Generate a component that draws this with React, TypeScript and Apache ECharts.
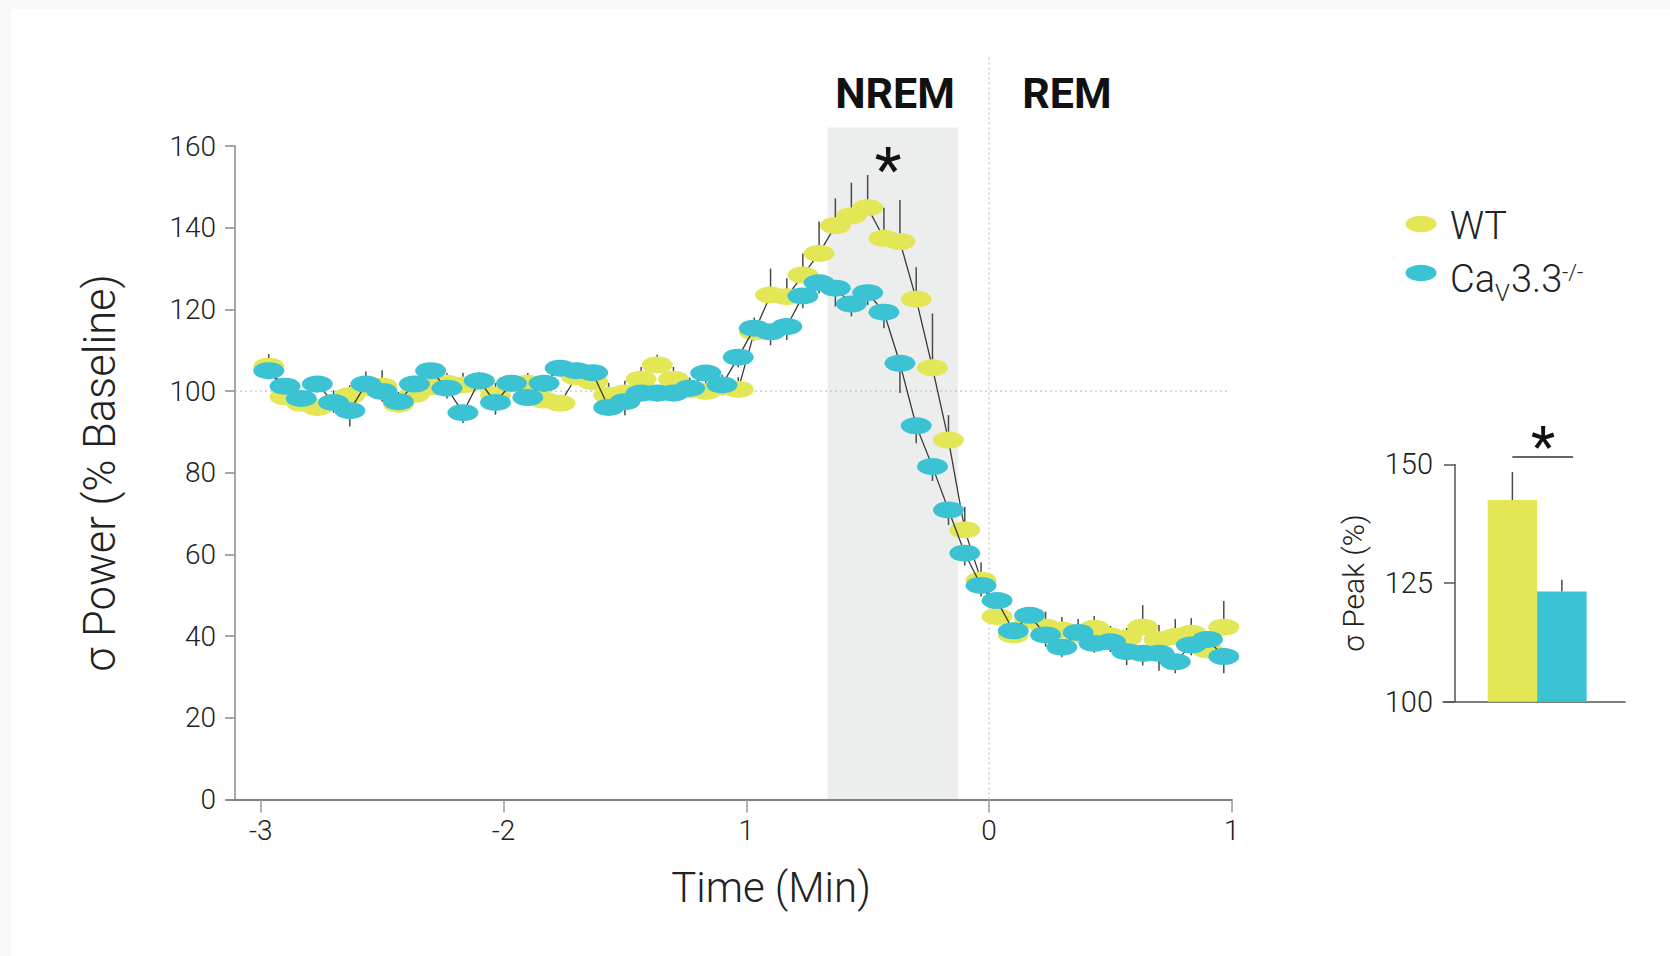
import React, { useEffect, useRef } from "react";
import * as echarts from "echarts";

// ---- data -------------------------------------------------------------
const TIME_MIN = [
  -2.967, -2.9, -2.833, -2.767, -2.7, -2.633, -2.567, -2.5, -2.433, -2.367,
  -2.3, -2.233, -2.167, -2.1, -2.033, -1.967, -1.9, -1.833, -1.767, -1.7,
  -1.633, -1.567, -1.5, -1.433, -1.367, -1.3, -1.233, -1.167, -1.1, -1.033,
  -0.967, -0.9, -0.833, -0.767, -0.7, -0.633, -0.567, -0.5, -0.433, -0.367,
  -0.3, -0.233, -0.167, -0.1, -0.033, 0.033, 0.1, 0.167, 0.233, 0.3,
  0.367, 0.433, 0.5, 0.567, 0.633, 0.7, 0.767, 0.833, 0.9, 0.967,
];
const WT_POWER = [
  106.1, 98.6, 97.0, 96.0, 97.2, 98.9, 100.8, 101.2, 96.8, 99.2,
  101.0, 101.9, 101.5, 102.2, 99.0, 101.9, 101.9, 97.8, 97.0, 103.5,
  102.3, 99.0, 99.5, 102.9, 106.4, 102.9, 100.3, 99.9, 101.0, 100.4,
  114.5, 123.5, 123.1, 128.4, 133.7, 140.5, 142.9, 144.9, 137.4, 136.6,
  122.5, 105.7, 88.0, 66.0, 53.7, 44.8, 40.3, 44.0, 42.2, 41.5,
  40.5, 41.9, 40.0, 39.5, 42.2, 39.1, 39.9, 40.7, 36.6, 42.2,
];
const WT_SEM = [
  3, 2.5, 2, 2, 3, 2.5, 4, 3.9, 3, 2.5,
  3, 2.5, 3, 2.4, 3, 2, 2.5, 3, 2, 2.5,
  2.5, 3, 3, 3, 2.5, 3, 3, 2.5, 3, 3,
  3.5, 6.5, 4.5, 5.3, 7.8, 6.7, 8.1, 8.0, 7.5, 10.2,
  7.8, 13.3, 6.1, 5.7, 4.3, 2.5, 2.5, 2.5, 3.8, 3.2,
  3.7, 3.0, 2.5, 2.5, 5.4, 3.6, 4.3, 3.7, 2.0, 6.4,
];
const CAV_POWER = [
  105.0, 101.2, 98.2, 101.7, 97.2, 95.2, 101.7, 99.9, 97.4, 101.7,
  105.0, 100.7, 94.7, 102.5, 97.2, 101.9, 98.4, 101.9, 105.6, 105.0,
  104.5, 96.0, 97.4, 99.5, 99.5, 99.5, 100.7, 104.4, 101.5, 108.3,
  115.4, 114.5, 115.8, 123.3, 126.5, 125.2, 121.3, 124.1, 119.3, 106.8,
  91.5, 81.5, 70.9, 60.3, 52.4, 48.7, 41.3, 45.1, 40.3, 37.3,
  40.9, 38.2, 38.6, 36.2, 35.8, 35.8, 33.7, 37.8, 39.2, 35.0,
];
const CAV_SEM = [
  2, 2.5, 2, 2, 2.5, 3.9, 2, 2.5, 2, 2,
  2, 2.5, 2.5, 2, 3, 2, 2, 2, 2, 2,
  2, 2.1, 3.3, 2, 2, 2, 2, 2, 2.5, 2.5,
  3, 3.3, 3.3, 3, 2.6, 4.5, 3, 3, 3.9, 7.3,
  4.3, 3.5, 3.7, 3, 2.7, 2.5, 2.5, 2.5, 2.9, 2.5,
  2.5, 2.3, 2.5, 3.3, 3.0, 4.3, 2.8, 2.5, 2.5, 4.1,
];
const X_TICKS = [-3, -2, -1, 0, 1];
const X_TICK_LABELS = ["-3", "-2", "1", "0", "1"];
const NREM_WINDOW = [-0.665, -0.128];
const NREM_TOP = 164.5;
const BASELINE = 100;

const PEAK_GROUPS = ["WT", "CaV3.3-/-"];
const PEAK_MEAN = [142.5, 123.2];
const PEAK_SEM = [5.9, 2.5];

// ---- style ------------------------------------------------------------
const YELLOW = "#e3e655";
const CYAN = "#3bc3d4";
const FONT = "Roboto";

export default function App() {
  const ref = useRef<HTMLDivElement>(null);

  useEffect(() => {
    if (!ref.current) return;
    const chart = echarts.init(ref.current, undefined, { renderer: "svg" });

    const errSeries = (values: number[], sems: number[], dir: number) => ({
      type: "custom",
      xAxisIndex: 0,
      yAxisIndex: 0,
      z: 2,
      silent: true,
      clip: false,
      data: TIME_MIN.map((t, i) => [t, values[i], values[i] + dir * sems[i]]),
      encode: { x: 0, y: [1, 2] },
      renderItem: (_p: any, api: any) => {
        const a = api.coord([api.value(0), api.value(1)]);
        const b = api.coord([api.value(0), api.value(2)]);
        return {
          type: "line",
          shape: { x1: a[0], y1: a[1], x2: b[0], y2: b[1] },
          style: { stroke: "#4a4a4a", lineWidth: 1.5 },
        };
      },
    });

    const lineSeries = (name: string, values: number[], color: string, z: number) => ({
      type: "line",
      name,
      xAxisIndex: 0,
      yAxisIndex: 0,
      z,
      data: TIME_MIN.map((t, i) => [t, values[i]]),
      symbol: "circle",
      symbolSize: [31, 17],
      showAllSymbol: true,
      lineStyle: { color: "#3a3a3a", width: 1.3 },
      itemStyle: { color, borderWidth: 0 },
      emphasis: { disabled: true },
    });

    const option: any = {
      animation: false,
      grid: [
        { left: 227, top: 146, width: 1004.8, height: 653.5 },
        { left: 1443, top: 464.4, width: 182.2, height: 237.3 },
      ],
      xAxis: [
        {
          type: "value",
          gridIndex: 0,
          min: -3.139,
          max: 1,
          axisLine: { onZero: false, lineStyle: { color: "#808080", width: 2 } },
          axisTick: {
            customValues: X_TICKS,
            length: 13,
            lineStyle: { color: "#9a9a9a", width: 1.5 },
          },
          axisLabel: {
            customValues: X_TICKS,
            formatter: (v: number) => X_TICK_LABELS[X_TICKS.indexOf(Math.round(v))] ?? "",
            fontFamily: FONT,
            fontWeight: 300,
            fontSize: 28,
            color: "#222",
            margin: 17,
          },
          splitLine: { show: false },
        },
        {
          type: "value",
          gridIndex: 1,
          min: -1.402,
          max: 2.279,
          axisLine: { onZero: false, lineStyle: { color: "#555", width: 1.5 } },
          axisTick: { show: false },
          axisLabel: { show: false },
          splitLine: { show: false },
        },
      ],
      yAxis: [
        {
          type: "value",
          gridIndex: 0,
          min: 0,
          max: 160,
          interval: 20,
          offset: -8,
          axisLine: { show: true, onZero: false, lineStyle: { color: "#8a8a8a", width: 1.5 } },
          axisTick: { show: true, length: 10, lineStyle: { color: "#8a8a8a", width: 1.5 } },
          axisLabel: {
            fontFamily: FONT,
            fontWeight: 300,
            fontSize: 28,
            color: "#222",
            margin: 19,
          },
          splitLine: { show: false },
        },
        {
          type: "value",
          gridIndex: 1,
          min: 100,
          max: 150,
          interval: 25,
          offset: -12,
          axisLine: { show: true, onZero: false, lineStyle: { color: "#555", width: 1.5 } },
          axisTick: { show: true, length: 11, lineStyle: { color: "#555", width: 1.5 } },
          axisLabel: {
            fontFamily: FONT,
            fontWeight: 300,
            fontSize: 29,
            color: "#222",
            margin: 22,
          },
          splitLine: { show: false },
        },
      ],
      series: [
        {
          type: "custom",
          xAxisIndex: 0,
          yAxisIndex: 0,
          z: 0,
          silent: true,
          clip: false,
          data: [[NREM_WINDOW[0], NREM_WINDOW[1], 0, NREM_TOP]],
          encode: { x: [0, 1], y: [2, 3] },
          renderItem: (_p: any, api: any) => {
            const a = api.coord([api.value(0), api.value(3)]);
            const b = api.coord([api.value(1), api.value(2)]);
            return {
              type: "rect",
              shape: { x: a[0], y: a[1], width: b[0] - a[0], height: b[1] - a[1] },
              style: { fill: "#eceeed" },
            };
          },
        },
        {
          type: "custom",
          xAxisIndex: 0,
          yAxisIndex: 0,
          z: 1,
          silent: true,
          clip: false,
          data: [
            [0, 0, 0, 182.3],
            [-3.106, BASELINE, 0.98, BASELINE],
          ],
          encode: { x: [0, 2], y: [1, 3] },
          renderItem: (_p: any, api: any) => {
            const a = api.coord([api.value(0), api.value(1)]);
            const b = api.coord([api.value(2), api.value(3)]);
            return {
              type: "line",
              shape: { x1: a[0], y1: a[1], x2: b[0], y2: b[1] },
              style: { stroke: "#c4c4c4", lineWidth: 1.3, lineDash: [2, 3] },
            };
          },
        },
        errSeries(WT_POWER, WT_SEM, 1),
        errSeries(CAV_POWER, CAV_SEM, -1),
        lineSeries("WT", WT_POWER, YELLOW, 3),
        lineSeries("CaV3.3-/-", CAV_POWER, CYAN, 4),
        {
          type: "custom",
          xAxisIndex: 1,
          yAxisIndex: 1,
          z: 3,
          silent: true,
          clip: false,
          data: PEAK_GROUPS.map((g, i) => [i, PEAK_MEAN[i], PEAK_MEAN[i] + PEAK_SEM[i]]),
          encode: { x: 0, y: [1, 2] },
          renderItem: (p: any, api: any) => {
            const i = api.value(0);
            const top = api.coord([i - 0.5, api.value(1)]);
            const base = api.coord([i + 0.5, 100]);
            const e1 = api.coord([i, api.value(1)]);
            const e2 = api.coord([i, api.value(2)]);
            return {
              type: "group",
              children: [
                {
                  type: "line",
                  shape: { x1: e1[0], y1: e1[1], x2: e2[0], y2: e2[1] },
                  style: { stroke: "#4a4a4a", lineWidth: 1.5 },
                },
                {
                  type: "rect",
                  shape: { x: top[0], y: top[1], width: base[0] - top[0], height: base[1] - top[1] },
                  style: { fill: p.dataIndex === 0 ? YELLOW : CYAN },
                },
              ],
            };
          },
        },
      ],
      graphic: [
        {
          type: "text",
          x: 895,
          y: 93,
          z: 100,
          style: { text: "NREM", font: `bold 43px ${FONT}`, fill: "#111", align: "center", verticalAlign: "middle" },
        },
        {
          type: "text",
          x: 1067,
          y: 93,
          z: 100,
          style: { text: "REM", font: `bold 43px ${FONT}`, fill: "#111", align: "center", verticalAlign: "middle" },
        },
        {
          type: "text",
          x: 888,
          y: 169,
          z: 100,
          style: { text: "*", font: `400 62px ${FONT}`, fill: "#111", align: "center", verticalAlign: "middle" },
        },
        {
          type: "text",
          x: 100,
          y: 473,
          z: 100,
          rotation: Math.PI / 2,
          style: {
            text: "σ Power (% Baseline)",
            font: `300 43.5px ${FONT}`,
            fill: "#222",
            align: "center",
            verticalAlign: "middle",
          },
        },
        {
          type: "text",
          x: 771,
          y: 887,
          z: 100,
          style: { text: "Time (Min)", font: `300 42px ${FONT}`, fill: "#222", align: "center", verticalAlign: "middle" },
        },
        // legend
        { type: "ellipse", z: 100, shape: { cx: 1421, cy: 224, rx: 15.5, ry: 8.2 }, style: { fill: YELLOW } },
        { type: "ellipse", z: 100, shape: { cx: 1421, cy: 273, rx: 15.5, ry: 8.2 }, style: { fill: CYAN } },
        {
          type: "text",
          x: 1450,
          y: 226,
          z: 100,
          style: { text: "WT", font: `300 38px ${FONT}`, fill: "#222", align: "left", verticalAlign: "middle" },
        },
        {
          type: "text",
          x: 1450,
          y: 279,
          z: 100,
          style: { text: "Ca", font: `300 38px ${FONT}`, fill: "#222", align: "left", verticalAlign: "middle" },
        },
        {
          type: "text",
          x: 1495,
          y: 293,
          z: 100,
          style: { text: "V", font: `300 24px ${FONT}`, fill: "#222", align: "left", verticalAlign: "middle" },
        },
        {
          type: "text",
          x: 1511,
          y: 279,
          z: 100,
          style: { text: "3.3", font: `300 38px ${FONT}`, fill: "#222", align: "left", verticalAlign: "middle" },
        },
        {
          type: "text",
          x: 1562,
          y: 272,
          z: 100,
          style: { text: "-/-", font: `300 22px ${FONT}`, fill: "#222", align: "left", verticalAlign: "middle" },
        },
        // inset
        {
          type: "text",
          x: 1353,
          y: 583,
          z: 100,
          rotation: Math.PI / 2,
          style: { text: "σ Peak (%)", font: `300 30px ${FONT}`, fill: "#222", align: "center", verticalAlign: "middle" },
        },
        {
          type: "line",
          z: 100,
          shape: { x1: 1512.4, y1: 456.9, x2: 1573.1, y2: 456.9 },
          style: { stroke: "#333", lineWidth: 1.5 },
        },
        {
          type: "text",
          x: 1543,
          y: 447,
          z: 100,
          style: { text: "*", font: `400 56px ${FONT}`, fill: "#111", align: "center", verticalAlign: "middle" },
        },
      ],
    };

    chart.setOption(option);
    return () => chart.dispose();
  }, []);

  return (
    <div style={{ position: "fixed", left: 0, top: 0, width: 1670, height: 956, background: "#f8f8f8" }}>
      <div style={{ position: "absolute", left: 11, top: 9, right: 0, bottom: 0, background: "#ffffff" }} />
      <div ref={ref} style={{ position: "absolute", left: 0, top: 0, width: 1670, height: 956 }} />
    </div>
  );
}
